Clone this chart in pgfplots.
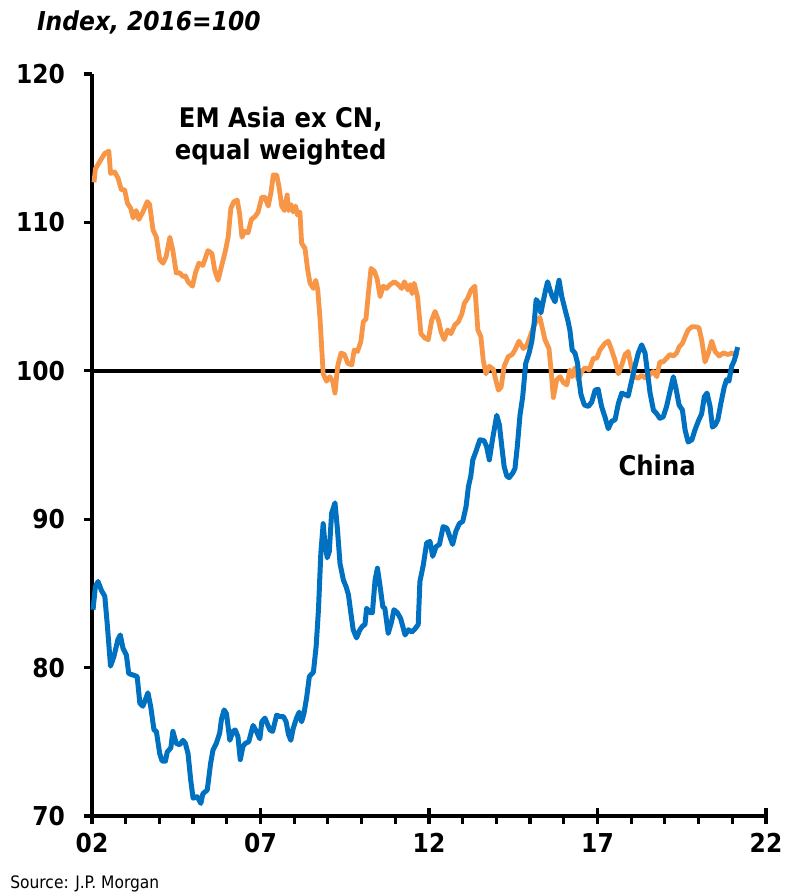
\documentclass[border=0pt]{standalone}
\usepackage{pgfplots}
\pgfplotsset{compat=1.18}
\usepackage{pgfplotstable}
\usepackage{fontspec}
\setmainfont{DejaVu Sans Condensed}

\definecolor{emorange}{HTML}{F79646}
\definecolor{cnblue}{HTML}{0070C0}

% EM Asia ex CN, equal weighted (index, 2016=100)
\pgfplotstableread{
x y
2002.06 112.7
2002.10 113.6
2002.23 114.1
2002.38 114.65
2002.50 114.8
2002.55 113.3
2002.67 113.4
2002.77 113.0
2002.87 112.2
2002.97 112.2
2003.05 111.3
2003.15 110.95
2003.22 110.3
2003.31 110.8
2003.39 110.2
2003.51 110.7
2003.64 111.4
2003.71 111.2
2003.81 109.5
2003.91 109.0
2004.01 107.5
2004.11 107.25
2004.20 107.7
2004.31 109.0
2004.40 108.1
2004.50 106.6
2004.60 106.6
2004.70 106.35
2004.77 106.4
2004.85 106.0
2004.98 105.7
2005.07 106.6
2005.17 107.25
2005.29 107.1
2005.44 108.1
2005.56 107.9
2005.64 106.8
2005.74 106.1
2005.84 107.0
2005.96 108.1
2006.04 109.0
2006.12 110.95
2006.21 111.4
2006.31 111.5
2006.38 110.6
2006.45 109.0
2006.53 109.4
2006.63 109.3
2006.73 110.2
2006.84 110.4
2006.93 110.7
2007.04 111.7
2007.13 111.7
2007.23 111.1
2007.31 112.0
2007.38 113.2
2007.48 113.2
2007.55 112.4
2007.63 111.1
2007.71 110.8
2007.79 111.85
2007.83 110.8
2007.91 111.2
2007.97 110.7
2008.04 111.1
2008.10 110.5
2008.17 110.7
2008.22 108.6
2008.32 108.25
2008.40 106.8
2008.47 105.9
2008.57 105.55
2008.64 106.1
2008.70 105.45
2008.77 103.4
2008.86 99.8
2008.96 99.3
2009.06 99.6
2009.14 99.3
2009.21 98.5
2009.29 100.3
2009.39 101.2
2009.49 101.1
2009.59 100.5
2009.71 100.4
2009.78 101.4
2009.88 101.3
2009.98 102.0
2010.05 103.3
2010.13 103.5
2010.20 105.2
2010.28 106.9
2010.38 106.7
2010.46 106.2
2010.55 105.0
2010.64 105.7
2010.74 105.55
2010.84 105.8
2010.97 106.0
2011.09 105.8
2011.19 105.55
2011.27 106.0
2011.37 105.45
2011.44 105.8
2011.50 105.2
2011.56 105.9
2011.66 105.0
2011.76 102.5
2011.88 102.2
2011.98 102.1
2012.08 103.4
2012.18 104.0
2012.28 103.4
2012.36 102.6
2012.45 102.1
2012.55 102.75
2012.65 102.5
2012.77 103.1
2012.87 103.3
2012.97 103.8
2013.05 104.55
2013.15 104.9
2013.25 105.45
2013.36 105.7
2013.45 102.75
2013.54 102.3
2013.61 100.7
2013.69 99.8
2013.79 100.3
2013.91 100.1
2013.99 99.3
2014.06 98.7
2014.14 98.9
2014.23 100.3
2014.35 100.95
2014.47 101.1
2014.55 101.4
2014.67 102.0
2014.80 101.5
2014.90 101.7
2015.00 102.3
2015.09 102.9
2015.20 103.4
2015.29 103.6
2015.36 102.9
2015.44 102.1
2015.56 101.5
2015.62 100.1
2015.69 98.2
2015.79 99.4
2015.89 99.6
2015.99 99.2
2016.09 99.05
2016.18 100.05
2016.25 99.6
2016.33 100.2
2016.43 99.4
2016.53 99.95
2016.63 100.2
2016.75 100.05
2016.88 100.85
2016.98 100.85
2017.07 101.4
2017.22 101.85
2017.32 102.0
2017.42 101.4
2017.52 100.7
2017.62 99.8
2017.72 100.4
2017.82 101.1
2017.91 101.3
2017.99 100.4
2018.09 99.6
2018.21 99.5
2018.31 99.7
2018.43 99.5
2018.53 99.7
2018.66 99.95
2018.76 99.6
2018.85 100.6
2018.95 100.6
2019.05 100.85
2019.15 101.1
2019.25 101.0
2019.35 101.2
2019.42 101.6
2019.52 101.85
2019.60 102.3
2019.69 102.75
2019.80 102.97
2019.91 102.97
2020.01 102.9
2020.09 102.1
2020.19 100.6
2020.29 101.2
2020.39 102.0
2020.49 101.3
2020.61 101.0
2020.73 101.2
2020.88 101.1
2020.98 101.2
2021.08 101.1
2021.18 101.0
}\emasia

% China (index, 2016=100)
\pgfplotstableread{
x y
2002.03 83.9
2002.10 85.45
2002.18 85.8
2002.28 85.2
2002.38 84.8
2002.45 83.0
2002.55 80.1
2002.65 80.75
2002.77 81.9
2002.84 82.2
2002.92 81.3
2003.02 80.85
2003.09 79.6
2003.22 79.5
2003.34 79.4
2003.42 77.6
2003.51 77.4
2003.66 78.3
2003.74 77.4
2003.84 75.8
2003.91 75.7
2004.01 74.2
2004.08 73.7
2004.18 73.7
2004.23 74.3
2004.34 74.6
2004.40 75.7
2004.50 74.9
2004.60 74.8
2004.70 75.1
2004.77 74.9
2004.85 74.2
2004.93 72.4
2005.00 71.2
2005.12 71.3
2005.23 70.85
2005.29 71.5
2005.42 71.75
2005.52 73.55
2005.59 74.45
2005.69 74.9
2005.79 75.6
2005.84 76.5
2005.92 77.15
2005.99 76.9
2006.09 75.1
2006.18 75.7
2006.25 75.8
2006.33 75.35
2006.40 73.8
2006.48 74.7
2006.55 74.9
2006.65 75.0
2006.78 76.1
2006.88 75.7
2006.98 75.2
2007.04 76.35
2007.13 76.6
2007.28 75.8
2007.36 75.7
2007.48 76.8
2007.58 76.7
2007.68 76.7
2007.76 76.35
2007.83 75.5
2007.90 75.1
2007.97 75.9
2008.07 76.6
2008.15 77.0
2008.22 76.35
2008.29 76.9
2008.37 78.0
2008.45 79.4
2008.57 79.7
2008.65 81.4
2008.72 83.9
2008.79 87.7
2008.86 89.7
2008.91 88.4
2008.98 87.4
2009.04 87.8
2009.11 90.4
2009.21 91.1
2009.28 89.4
2009.36 87.0
2009.46 85.9
2009.54 85.45
2009.61 84.9
2009.68 83.7
2009.75 82.55
2009.85 82.0
2009.95 82.55
2010.03 82.8
2010.10 82.9
2010.15 84.0
2010.25 83.7
2010.32 83.7
2010.40 85.9
2010.47 86.7
2010.55 85.45
2010.63 84.1
2010.69 84.0
2010.79 82.3
2010.89 83.1
2010.96 83.9
2011.06 83.7
2011.16 83.3
2011.29 82.2
2011.39 82.55
2011.49 82.4
2011.58 82.6
2011.68 82.9
2011.73 85.8
2011.83 86.9
2011.93 88.4
2012.03 88.5
2012.11 87.5
2012.21 88.15
2012.31 88.3
2012.42 89.5
2012.53 89.4
2012.62 88.8
2012.70 88.3
2012.80 89.2
2012.90 89.7
2013.00 89.85
2013.10 90.85
2013.17 92.2
2013.24 92.9
2013.30 94.0
2013.39 94.55
2013.51 95.35
2013.63 95.3
2013.71 94.9
2013.79 94.0
2013.89 95.45
2014.01 97.0
2014.09 96.35
2014.16 94.9
2014.23 93.55
2014.31 92.9
2014.38 92.8
2014.48 93.1
2014.55 93.4
2014.62 94.9
2014.70 97.0
2014.78 98.25
2014.87 100.5
2014.97 101.2
2015.05 101.97
2015.12 103.2
2015.18 104.8
2015.26 104.55
2015.32 103.9
2015.40 104.8
2015.46 105.45
2015.52 106.0
2015.59 105.45
2015.66 105.0
2015.74 104.65
2015.80 105.45
2015.86 106.1
2015.94 105.0
2016.04 104.1
2016.12 103.4
2016.18 102.75
2016.25 101.4
2016.33 101.2
2016.41 100.5
2016.45 99.4
2016.51 98.4
2016.61 97.7
2016.73 97.6
2016.83 97.9
2016.93 98.7
2017.02 98.75
2017.12 97.6
2017.22 96.9
2017.32 96.1
2017.42 96.6
2017.52 96.7
2017.62 97.8
2017.72 98.5
2017.82 98.4
2017.91 98.3
2018.01 99.3
2018.11 100.3
2018.21 101.2
2018.31 101.75
2018.41 101.2
2018.48 99.95
2018.56 98.5
2018.66 97.35
2018.76 97.1
2018.85 96.8
2018.95 96.9
2019.05 97.6
2019.15 98.6
2019.25 99.6
2019.33 98.8
2019.42 97.7
2019.52 97.35
2019.60 96.0
2019.69 95.2
2019.80 95.35
2019.89 96.0
2019.99 96.6
2020.09 97.1
2020.17 98.25
2020.25 98.5
2020.34 97.6
2020.41 96.2
2020.49 96.35
2020.57 96.7
2020.66 97.8
2020.76 98.9
2020.83 99.4
2020.90 99.3
2020.98 100.3
2021.06 100.7
2021.16 101.6
}\china

\begin{document}
\begin{tikzpicture}
\useasboundingbox (-46pt,-39pt) rectangle (346pt,408pt);
\begin{axis}[
  scale only axis,
  width=337pt, height=371pt,
  at={(0pt,0pt)}, anchor=origin,
  xmin=2002, xmax=2022,
  ymin=70, ymax=120,
  axis lines=left,
  axis line style={-, line width=2.4pt, black},
  clip=false,
  ytick={70,80,...,120},
  xtick={2002,...,2022},
  xticklabels={},
  extra x ticks={2002,2007,2012,2017,2022},
  extra x tick labels={02,07,12,17,22},
  extra x tick style={tick align=center, major tick length=8pt,
    tick style={line width=1.6pt, black}},
  tick align=outside,
  major tick length=4pt,
  tick style={line width=1.6pt, black},
  /pgf/number format/assume math mode=true,
  ticklabel style={font=\bfseries\fontsize{13}{13}\selectfont, black},
  yticklabel style={xshift=-6pt},
  xticklabel style={yshift=-1pt},
]
\addplot[line width=1.7pt, black] coordinates {(2002,100) (2021.2,100)};
\addplot[emorange, line width=2.4pt, line join=round] table[x=x,y=y]{\emasia};
\addplot[cnblue, line width=2.5pt, line join=round] table[x=x,y=y]{\china};
\node[align=center, font=\bfseries\fontsize{13.5}{16}\selectfont] at (axis cs:2007.6,115.8) {EM Asia ex CN,\\equal weighted};
\node[font=\bfseries\fontsize{13.5}{16}\selectfont] at (axis cs:2018.77,93.65) {China};
\end{axis}
\node[anchor=west, font=\bfseries\itshape\fontsize{13}{13}\selectfont] at (-31pt,397pt) {Index, 2016=100};
\node[anchor=west, font=\fontsize{8.6}{8.6}\selectfont, inner sep=0pt] at (-41pt,-34pt) {Source: J.P. Morgan};
\end{tikzpicture}
\end{document}
